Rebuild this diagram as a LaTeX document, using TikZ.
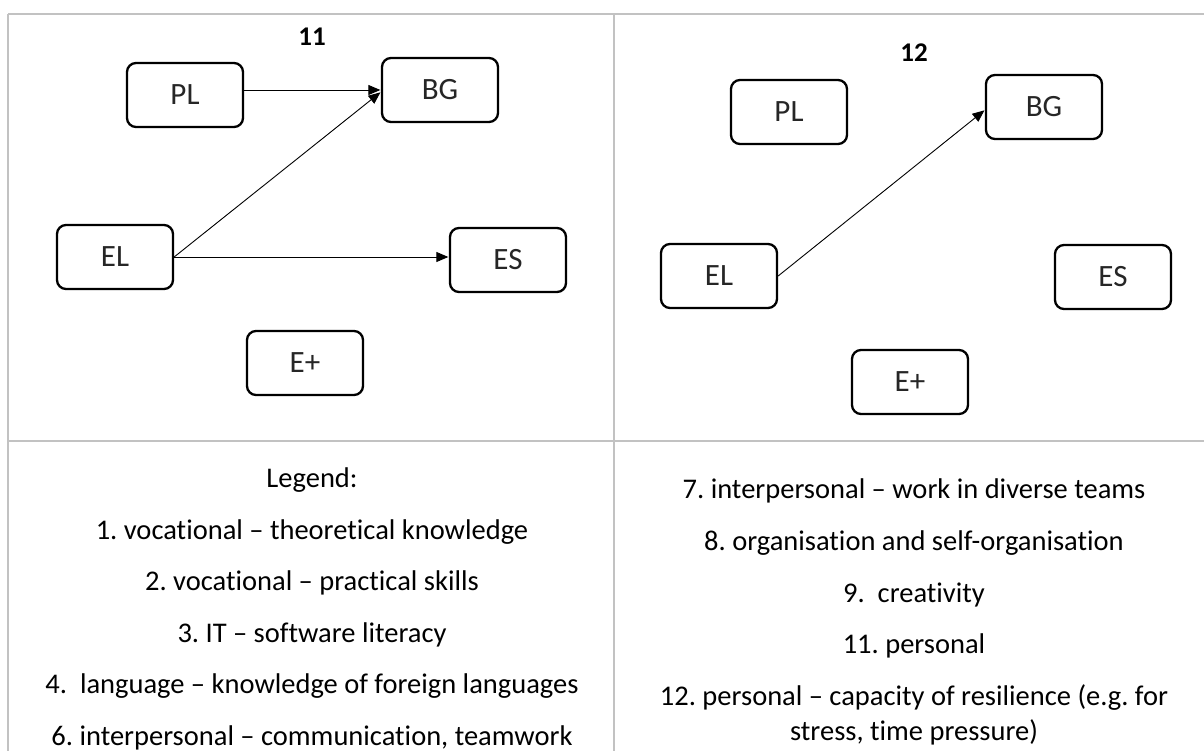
\documentclass[tikz,border=0pt]{standalone}
\usepackage{fontspec}
\setmainfont{Carlito}[Ligatures={NoCommon}]
\usetikzlibrary{arrows.meta}
\frenchspacing

\tikzset{
  gridline/.style={draw=black!24, line width=2.4pt},
  varbox/.style={draw, rounded corners=9pt, line width=2.3pt,
    minimum width=116pt, minimum height=64pt, inner sep=0pt,
    font=\fontsize{31}{36}\selectfont, text=black!85},
  link/.style={line width=0.9pt, -{Triangle[length=12pt,width=10pt]}, shorten >=0.5pt},
  paneltitle/.style={font=\fontsize{27}{31}\selectfont\bfseries, inner sep=0pt},
  legendline/.style={font=\fontsize{28.5}{34}\selectfont, inner sep=0pt, anchor=base, align=center}
}

\begin{document}
\begin{tikzpicture}[x=1pt, y=-1pt]
  \useasboundingbox[fill=white] (0,0) rectangle (1204,751);

  % table rules
  \draw[gridline] (8,14) -- (1204,14);
  \draw[gridline] (8,441) -- (1204,441);
  \draw[gridline] (8,14) -- (8,751);
  \draw[gridline] (614,14) -- (614,751);

  % panel 11
  \node[paneltitle] (t11) at (312,37) {11};
  \node[varbox] (pl1) at (185,95)  {PL};
  \node[varbox] (bg1) at (440,90)  {BG};
  \node[varbox] (el1) at (115,257) {EL};
  \node[varbox] (es1) at (508,260) {ES};
  \node[varbox] (ep1) at (305,363) {E+};
  \draw[link] (pl1.east |- bg1.west) -- (bg1.west);
  \draw[link] (el1.east) -- ([yshift=-2pt]bg1.west);
  \draw[link] (el1.east) -- (es1.west |- el1.east);

  % panel 12
  \node[paneltitle] (t12) at (914,53) {12};
  \node[varbox] (pl2) at (789,112)  {PL};
  \node[varbox] (bg2) at (1044,107) {BG};
  \node[varbox] (el2) at (719,276)  {EL};
  \node[varbox] (es2) at (1113,277) {ES};
  \node[varbox] (ep2) at (910,382)  {E+};
  \draw[link] (el2.east) -- ([yshift=-3pt]bg2.west);

  % legend, left column
  \node[legendline] (lg0) at (312,487) {Legend:};
  \node[legendline] (lg1) at (312,539) {1. vocational – theoretical knowledge};
  \node[legendline] (lg2) at (312,590) {2. vocational – practical skills};
  \node[legendline] (lg3) at (312,642) {3. IT – software literacy};
  \node[legendline] (lg4) at (312,693) {4.\ \ language – knowledge of foreign languages};
  \node[legendline] (lg6) at (312,745) {6. interpersonal – communication, teamwork};

  % legend, right column
  \node[legendline] (lg7)  at (914,498) {7. interpersonal – work in diverse teams};
  \node[legendline] (lg8)  at (914,550) {8. organisation and self-organisation};
  \node[legendline] (lg9)  at (914,602) {9.\ \ creativity};
  \node[legendline] (lg11) at (914,653) {11. personal};
  \node[legendline] (lg12) at (914,705) {12. personal – capacity of resilience (e.g. for};
  \node[legendline] (lg12b) at (914,740) {stress, time pressure)};
\end{tikzpicture}
\end{document}
